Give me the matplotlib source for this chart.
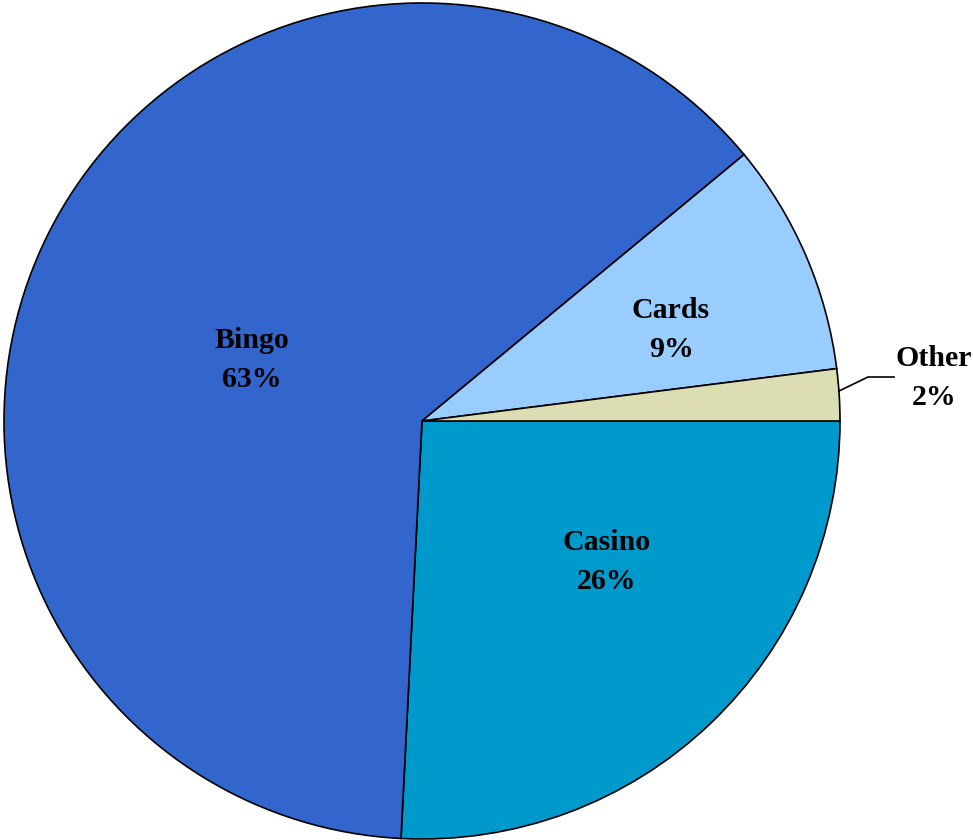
import matplotlib.pyplot as plt

labels = ["Casino", "Bingo", "Cards", "Other"]
shares = [25.8, 63.2, 9.0, 2.0]
colors = ["#0099CC", "#3366CC", "#99CCFF", "#DDDDB4"]

fig = plt.figure(figsize=(9.73, 8.4), dpi=100)
ax = fig.add_axes([0, 0, 1, 1])

cx, cy, r = 422, 421, 418
ax.pie(
    shares,
    colors=colors,
    startangle=0,
    counterclock=True,
    radius=r,
    center=(cx, cy),
    wedgeprops=dict(edgecolor="black", linewidth=1.2),
    frame=True,
)
# y axis flipped so the slices run clockwise as in the original
ax.set_xlim(0, 973)
ax.set_ylim(840, 0)
ax.set_aspect("equal")
ax.axis("off")

font = dict(family="Liberation Serif", fontweight="bold", fontsize=21.5,
            ha="center", va="center", linespacing=1.6)
ax.text(252, 360, f"{labels[1]}\n{shares[1]:.0f}%", **font)
ax.text(671, 330, f"{labels[2]}\n{shares[2]:.0f}%", **font)
ax.text(607, 562, f"{labels[0]}\n{shares[0]:.0f}%", **font)
ax.text(934, 378, f"{labels[3]}\n{shares[3]:.0f}%", **font)
ax.plot([839, 868, 894], [391, 377, 377], color="black", linewidth=1.2)

fig.savefig("out.png", dpi=100)
